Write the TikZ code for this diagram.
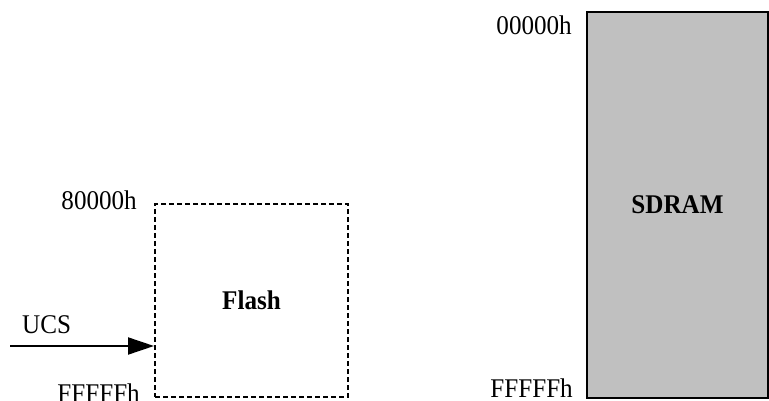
\documentclass[tikz,border=0pt]{standalone}
\usepackage{fontspec}
\setmainfont{Liberation Serif}[FakeStretch=0.93]
\usetikzlibrary{arrows.meta}
\definecolor{memgray}{HTML}{C0C0C0}
\begin{document}
\begin{tikzpicture}[x=1pt,y=-1pt,
  lbl/.style={font=\fontsize{27}{32}\selectfont, inner sep=0pt},
  membox/.style={draw=black, line width=2pt, inner sep=0pt, font=\fontsize{27}{32}\selectfont\bfseries},
  flashbox/.style={membox, dash pattern=on 5pt off 3pt},
  sdrambox/.style={membox, fill=memgray},
  ucsarrow/.style={line width=2pt, -{Triangle[length=26pt,width=17pt]}}]
\useasboundingbox (0,0) rectangle (769,401);
\clip (0,0) rectangle (769,401);
\node[flashbox, minimum width=193pt, minimum height=193pt] (flash) at (251.5,300.5) {Flash};
\node[sdrambox, minimum width=181pt, minimum height=386pt] (sdram) at (677.5,205) {SDRAM};
\node[lbl, anchor=base east] (fstart) at (137,210) {80000h};
\node[lbl, anchor=base east] (fend) at (140,402) {FFFFFh};
\node[lbl, anchor=base east] (sstart) at (572,35) {00000h};
\node[lbl, anchor=base east] (send) at (573,397) {FFFFFh};
\node[lbl, anchor=base west] (ucs) at (22,333) {UCS};
\coordinate (ucsstart) at (10,346);
\draw[ucsarrow] (ucsstart) -- (ucsstart -| flash.west);
\end{tikzpicture}
\end{document}
